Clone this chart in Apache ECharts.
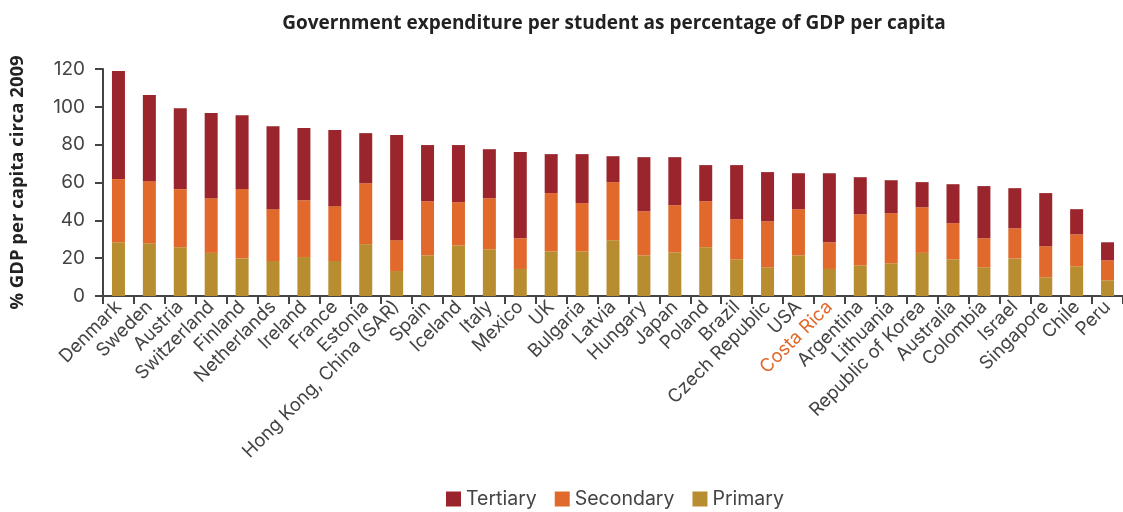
<!DOCTYPE html>
<html>
<head>
<meta charset="utf-8">
<script src="https://cdn.jsdelivr.net/npm/echarts@6/dist/echarts.min.js"></script>
<style>
html,body{margin:0;padding:0;background:#fff;}
#chart{width:1123px;height:512px;}
</style>
</head>
<body>
<div id="chart"></div>
<script>
const categories = ["Denmark","Sweden","Austria","Switzerland","Finland","Netherlands","Ireland","France","Estonia","Hong Kong, China (SAR)","Spain","Iceland","Italy","Mexico","UK","Bulgaria","Latvia","Hungary","Japan","Poland","Brazil","Czech Republic","USA","Costa Rica","Argentina","Lithuania","Republic of Korea","Australia","Colombia","Israel","Singapore","Chile","Peru"];
const primary = [28.4,27.9,25.8,22.8,19.9,18.5,20.6,18.5,27.4,13.2,21.5,26.8,24.7,14.3,23.6,23.6,29.5,21.5,23.1,25.8,19.4,15.2,21.5,14.3,16.2,17.3,22.8,19.4,15.2,19.9,9.9,15.7,8.3];
const secondary = [33.4,32.8,30.7,28.9,36.6,27.4,30.0,29.0,32.2,16.3,28.6,22.8,27.0,16.2,30.8,25.5,30.7,23.3,24.9,24.3,21.2,24.3,24.4,14.1,27.0,26.5,24.1,19.1,15.3,15.9,16.4,16.9,10.6];
const tertiary = [57.1,45.5,42.8,45.0,39.1,43.9,38.2,40.2,26.5,55.6,29.7,30.2,25.9,45.6,20.6,25.9,13.7,28.6,25.4,19.1,28.6,26.0,19.0,36.5,19.6,17.4,13.3,20.6,27.6,21.2,28.1,13.3,9.5];
const yTicks = [0,20,40,60,80,100,120];
const highlight = "Costa Rica";

const colors = {Tertiary:"#9a252c", Secondary:"#e0692b", Primary:"#b88d30"};
const font = "Inter, Lato, sans-serif";
const boldFont = "'Open Sans', sans-serif";

const chart = echarts.init(document.getElementById('chart'), null, {renderer:'canvas'});
chart.setOption({
  animation:false,
  title:{
    text:"Government expenditure per student as percentage of GDP per capita",
    left:609, textAlign:'center', top:9,
    textStyle:{fontFamily:boldFont, fontWeight:'bold', fontSize:19, color:'#222'}
  },
  legend:{
    data:["Tertiary","Secondary","Primary"],
    left:441, top:484,
    itemWidth:15, itemHeight:15, itemGap:18,
    icon:'rect',
    textStyle:{fontFamily:font, fontSize:19.5, color:'#444'}
  },
  grid:{left:101, top:69, width:1029, height:227, containLabel:false},
  xAxis:{
    type:'category',
    data:categories,
    axisLine:{lineStyle:{color:'#444', width:2}},
    axisTick:{show:true, length:8, lineStyle:{color:'#444', width:2}},
    axisLabel:{
      rotate:45, margin:8, interval:0,
      fontFamily:font, fontSize:18.5,
      color:function(v){ return v===highlight ? '#e0692b' : '#444'; }
    }
  },
  yAxis:{
    type:'value', min:yTicks[0], max:yTicks[yTicks.length-1], interval:20,
    name:"% GDP per capita circa 2009",
    nameLocation:'middle', nameGap:76,
    nameTextStyle:{fontFamily:boldFont, fontWeight:'bold', fontSize:18.5, color:'#222'},
    axisLine:{show:true, lineStyle:{color:'#444', width:2}},
    axisTick:{show:true, length:8, lineStyle:{color:'#444', width:2}},
    splitLine:{show:false},
    axisLabel:{margin:18, fontFamily:font, fontSize:19, color:'#444'}
  },
  series:[
    {name:"Primary", type:'bar', stack:'s', data:primary, barWidth:13, itemStyle:{color:colors.Primary}},
    {name:"Secondary", type:'bar', stack:'s', data:secondary, barWidth:13, itemStyle:{color:colors.Secondary}},
    {name:"Tertiary", type:'bar', stack:'s', data:tertiary, barWidth:13, itemStyle:{color:colors.Tertiary}}
  ]
});
</script>
</body>
</html>
